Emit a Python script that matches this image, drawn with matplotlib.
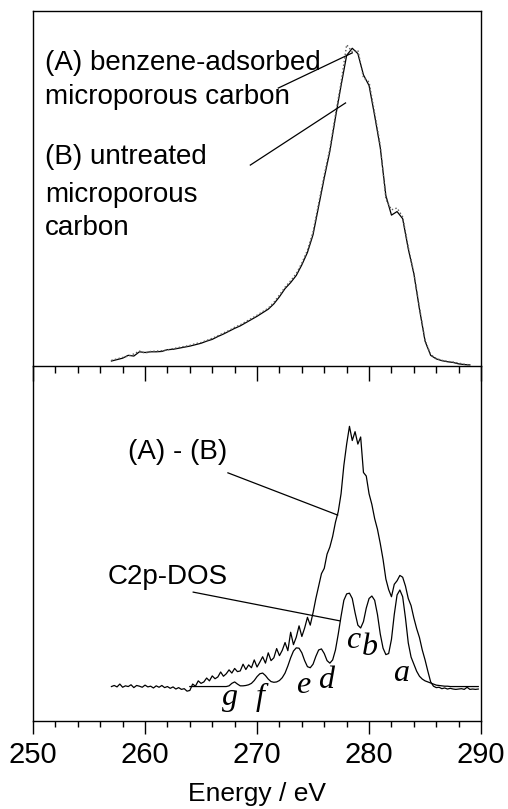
import matplotlib
matplotlib.use("Agg")
import matplotlib.pyplot as plt
import numpy as np
from matplotlib.ticker import MultipleLocator

plt.rcParams['font.family'] = ['Liberation Sans', 'DejaVu Sans']

# --- top panel: raw spectra, 257-289 eV in 0.5 eV steps ---
e_top = np.arange(257.0, 289.01, 0.5)
untreated = [0.014, 0.018, 0.022, 0.030, 0.028, 0.040, 0.038, 0.040, 0.040, 0.041,
             0.046, 0.047, 0.050, 0.053, 0.056, 0.060, 0.064, 0.070, 0.075, 0.083,
             0.090, 0.098, 0.106, 0.113, 0.122, 0.131, 0.140, 0.150, 0.160, 0.175,
             0.195, 0.218, 0.235, 0.255, 0.285, 0.320, 0.370, 0.450, 0.530, 0.605,
             0.700, 0.790, 0.875, 0.895, 0.880, 0.820, 0.790, 0.705, 0.615, 0.480,
             0.425, 0.435, 0.415, 0.330, 0.260, 0.160, 0.070, 0.030, 0.020, 0.015,
             0.012, 0.010, 0.006, 0.004, 0.003]
benzene = [0.016, 0.020, 0.024, 0.028, 0.034, 0.042, 0.036, 0.041, 0.042, 0.043,
           0.045, 0.049, 0.052, 0.055, 0.058, 0.063, 0.066, 0.072, 0.078, 0.085,
           0.093, 0.100, 0.109, 0.116, 0.125, 0.134, 0.143, 0.153, 0.163, 0.179,
           0.200, 0.222, 0.240, 0.260, 0.290, 0.326, 0.378, 0.458, 0.538, 0.612,
           0.708, 0.798, 0.905, 0.885, 0.890, 0.812, 0.800, 0.712, 0.622, 0.470,
           0.440, 0.445, 0.420, 0.335, 0.262, 0.165, 0.072, 0.032, 0.021, 0.016,
           0.013, 0.011, 0.008, 0.005, 0.003]

# --- bottom panel: difference spectrum, 257-289.75 eV in 0.25 eV steps ---
e_diff = np.arange(257.0, 289.76, 0.25)
diff = [0.097, 0.100, 0.096, 0.104, 0.095, 0.099, 0.097, 0.102, 0.094, 0.100,
        0.098, 0.095, 0.101, 0.096, 0.098, 0.093, 0.099, 0.095, 0.100, 0.094,
        0.097, 0.092, 0.096, 0.090, 0.094, 0.089, 0.091, 0.084, 0.086,
        0.104, 0.098, 0.113, 0.106, 0.110, 0.121, 0.113, 0.127, 0.119, 0.124,
        0.138, 0.126, 0.133, 0.144, 0.135, 0.148, 0.139, 0.141, 0.160, 0.145,
        0.158, 0.150, 0.172, 0.152, 0.166, 0.181, 0.163, 0.192, 0.170, 0.178,
        0.204, 0.184, 0.199, 0.221, 0.198, 0.250, 0.215, 0.236, 0.268, 0.238,
        0.262, 0.292, 0.270, 0.305,
        0.345, 0.380, 0.415, 0.430, 0.470, 0.490, 0.520, 0.560, 0.590, 0.640,
        0.720, 0.780, 0.830, 0.790, 0.815, 0.780, 0.800, 0.700, 0.690, 0.640,
        0.610, 0.570, 0.540, 0.500, 0.455, 0.400, 0.370, 0.350, 0.385, 0.395,
        0.410, 0.405, 0.380, 0.345, 0.325, 0.290, 0.260, 0.235, 0.200, 0.172,
        0.140, 0.110, 0.098, 0.094, 0.095, 0.091, 0.093, 0.090, 0.092, 0.090,
        0.089, 0.090, 0.091, 0.089, 0.095, 0.089, 0.090, 0.089, 0.090]

# --- C2p-DOS, 264-289.75 eV in 0.25 eV steps ---
e_dos = np.arange(264.0, 289.76, 0.25)
dos = [0.097] * 14 + [
    0.099, 0.106, 0.110, 0.104, 0.099, 0.099, 0.100, 0.102, 0.106, 0.114,
    0.125, 0.133, 0.135, 0.128, 0.118, 0.111, 0.109, 0.110, 0.114, 0.122,
    0.135, 0.155, 0.178, 0.197, 0.206, 0.205, 0.192, 0.170, 0.153, 0.150,
    0.160, 0.182, 0.200, 0.203, 0.190, 0.170, 0.163, 0.172, 0.200, 0.245,
    0.295, 0.340, 0.358, 0.360, 0.345, 0.305, 0.270, 0.262, 0.280, 0.318,
    0.345, 0.352, 0.340, 0.300, 0.245, 0.205, 0.187, 0.190, 0.230, 0.300,
    0.355, 0.369, 0.350, 0.290, 0.220, 0.180, 0.160, 0.140, 0.126, 0.118,
    0.113, 0.110, 0.107, 0.104, 0.101, 0.100, 0.099, 0.098, 0.098, 0.097,
    0.097, 0.097, 0.097, 0.097, 0.097, 0.097, 0.097, 0.097, 0.097, 0.097,
    0.097, 0.097, 0.097]
dos = dos[:len(e_dos)]

peak_labels = ['a', 'b', 'c', 'd', 'e', 'f', 'g']
peak_x = [282.9, 280.1, 278.6, 276.2, 274.1, 270.3, 267.6]
peak_y = [0.135, 0.206, 0.228, 0.115, 0.101, 0.065, 0.065]

fig = plt.figure(figsize=(5.08, 8.09), dpi=100)
left, width = 0.065, 0.882
ax1 = fig.add_axes([left, 0.5476, width, 0.4388])
ax2 = fig.add_axes([left, 0.1088, width, 0.4388])

for ax in (ax1, ax2):
    ax.set_xlim(250, 290)
    ax.set_ylim(0, 1)
    ax.set_yticks([])
    for s in ax.spines.values():
        s.set_linewidth(1.0)

# top panel
ax1.plot(e_top, untreated, color='black', lw=0.9)
ax1.plot(e_top, benzene, color='0.35', lw=1.0, ls=':')
ax1.tick_params(axis='x', which='both', bottom=False, labelbottom=False)
ax1.spines['bottom'].set_visible(False)

txt = dict(fontsize=20, ha='left', va='center')
ax1.text(251.1, 0.854, '(A) benzene-adsorbed', **txt)
ax1.text(251.1, 0.758, 'microporous carbon', **txt)
ax1.text(251.1, 0.589, '(B) untreated', **txt)
ax1.text(251.1, 0.482, 'microporous', **txt)
ax1.text(251.1, 0.389, 'carbon', **txt)
ax1.plot([271.9, 278.5], [0.783, 0.882], color='black', lw=0.9)
ax1.plot([269.4, 277.9], [0.566, 0.741], color='black', lw=0.9)

# bottom panel
ax2.plot(e_diff, diff, color='black', lw=0.9)
ax2.plot(e_dos, dos, color='black', lw=0.9)
ax2.text(262.9, 0.758, '(A) - (B)', fontsize=20, ha='center', va='center')
ax2.text(262.05, 0.406, 'C2p-DOS', fontsize=20, ha='center', va='center')
ax2.plot([267.4, 277.2], [0.699, 0.580], color='black', lw=0.9)
ax2.plot([264.3, 277.4], [0.363, 0.282], color='black', lw=0.9)
for lab, px, py in zip(peak_labels, peak_x, peak_y):
    ax2.text(px, py, lab, fontsize=23, style='italic', family='Liberation Serif',
             ha='center', va='center')

ax2.xaxis.set_major_locator(MultipleLocator(10))
ax2.xaxis.set_minor_locator(MultipleLocator(2))
ax2.tick_params(axis='x', which='both', top=True, direction='out', width=1.0)
ax2.tick_params(axis='x', which='major', length=9.5, labelsize=21, pad=5)
ax2.tick_params(axis='x', which='minor', length=4.5)
# ticks along the divider point down into the lower panel
for t in ax2.xaxis.get_major_ticks():
    t.tick2line.set_marker(3)
    t.tick2line.set_markersize(11)
for t in ax2.xaxis.get_minor_ticks():
    t.tick2line.set_marker(3)
    t.tick2line.set_markersize(5)
ax2.set_xlabel('Energy / eV', fontsize=19, labelpad=9)

fig.savefig('out.png', dpi=100)
